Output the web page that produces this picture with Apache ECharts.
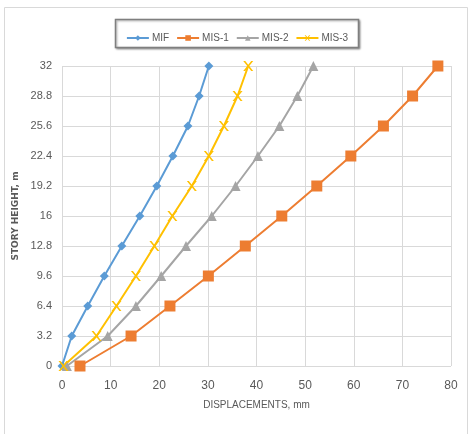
<!DOCTYPE html>
<html lang="en">
<head>
    <meta charset="UTF-8">
    <script src="https://cdn.jsdelivr.net/npm/echarts/dist/echarts.min.js"></script>
    <style>
        body, html { margin: 0; padding: 0; width: 100%; height: 100%; background: #fff; }
        #chart { width: 474px; height: 434px; }
    </style>
</head>
<body>
    <div id="chart"></div>
    <script>
        // story heights (m)
        const heights = [0, 3.2, 6.4, 9.6, 12.8, 16, 19.2, 22.4, 25.6, 28.8, 32];
        // displacements (mm)
        const mif  = [0, 2.0, 5.3, 8.7, 12.3, 16.0, 19.5, 22.8, 25.9, 28.2, 30.2];
        const mis1 = [3.7, 14.2, 22.2, 30.1, 37.7, 45.2, 52.4, 59.4, 66.1, 72.1, 77.3];
        const mis2 = [1.0, 9.4, 15.2, 20.4, 25.5, 30.8, 35.7, 40.3, 44.7, 48.4, 51.7];
        const mis3 = [0.3, 7.1, 11.2, 15.2, 19.0, 22.7, 26.7, 30.2, 33.3, 36.1, 38.3];

        const font = '"Liberation Sans", Arial, sans-serif';

        function pairs(xs) {
            return xs.map((x, i) => [x, heights[i]]);
        }

        let chart = echarts.init(document.getElementById('chart'));
        chart.setOption({
            animation: false,
            textStyle: { fontFamily: font },
            graphic: [
                { type: 'rect', shape: { x: 4.5, y: 7.5, width: 463, height: 440 },
                  style: { fill: 'none', stroke: '#d9d9d9', lineWidth: 1 }, z: -1 },
                { type: 'rect', shape: { x: 115.5, y: 19.5, width: 243, height: 28 },
                  style: { fill: '#fff', stroke: '#7f7f7f', lineWidth: 1.5,
                           shadowColor: 'rgba(0,0,0,0.35)', shadowBlur: 2, shadowOffsetX: 1, shadowOffsetY: 1 }, z: 0 }
            ],
            legend: {
                top: 28,
                left: 'center',
                itemWidth: 22,
                itemHeight: 7,
                itemGap: 7,
                textStyle: { fontFamily: font, fontSize: 10, color: '#595959', padding: [0, 0, 0, -2] },
                data: ['MIF', 'MIS-1', 'MIS-2', 'MIS-3'],
                z: 5
            },
            grid: { left: 62, right: 23, top: 66, bottom: 68 },
            xAxis: {
                type: 'value',
                min: 0, max: 80, interval: 10,
                name: 'DISPLACEMENTS, mm',
                nameLocation: 'middle',
                nameGap: 34,
                nameTextStyle: { fontFamily: font, fontSize: 10, color: '#595959' },
                axisLine: { show: false },
                axisTick: { show: false },
                axisLabel: { color: '#595959', fontSize: 12, margin: 14 },
                splitLine: { show: true, lineStyle: { color: '#d9d9d9' } }
            },
            yAxis: {
                type: 'value',
                min: 0, max: 32, interval: 3.2,
                name: 'STORY HEIGHT, m',
                nameLocation: 'middle',
                nameGap: 38,
                nameTextStyle: { fontFamily: '"DejaVu Sans", sans-serif', fontSize: 9, fontWeight: 'bold', color: '#595959' },
                axisLine: { show: false },
                axisTick: { show: false },
                axisLabel: { color: '#595959', fontSize: 11, margin: 10 },
                splitLine: { show: true, lineStyle: { color: '#d9d9d9' } }
            },
            series: [
                { name: 'MIF', type: 'line', data: pairs(mif), symbol: 'diamond', symbolSize: 9,
                  color: '#5b9bd5', lineStyle: { width: 2 } },
                { name: 'MIS-1', type: 'line', data: pairs(mis1), symbol: 'rect', symbolSize: 11,
                  color: '#ed7d31', lineStyle: { width: 2 } },
                { name: 'MIS-2', type: 'line', data: pairs(mis2), symbol: 'triangle', symbolSize: 10,
                  color: '#a5a5a5', lineStyle: { width: 2 } },
                { name: 'MIS-3', type: 'line', data: pairs(mis3),
                  symbol: 'path://M0,0L2,0L5,3L8,0L10,0L6,4L10,8L8,8L5,5L2,8L0,8L4,4Z', symbolSize: 10,
                  color: '#ffc000', lineStyle: { width: 2 } }
            ]
        });
    </script>
</body>
</html>
